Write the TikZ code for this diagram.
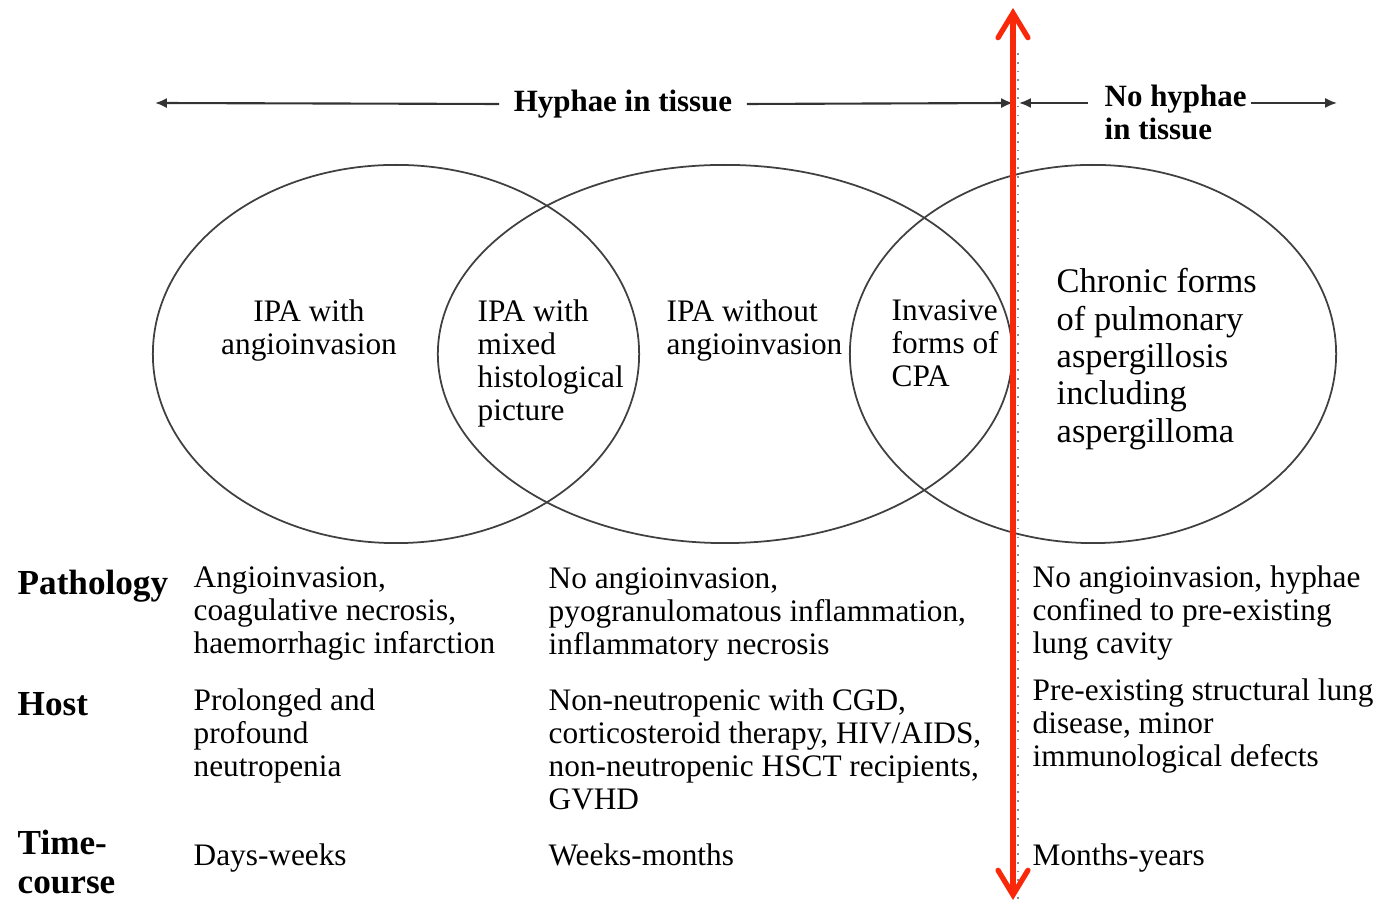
\documentclass[tikz,border=0pt]{standalone}
\usepackage{fontspec}
\setmainfont{Liberation Serif}
\usetikzlibrary{arrows.meta}

\definecolor{splitred}{RGB}{250,40,10}

\tikzset{
  cell/.style={anchor=north west, inner sep=0pt, align=left, font=\fontsize{8.9}{9.4}\selectfont},
  bigcell/.style={anchor=north west, inner sep=0pt, align=left, font=\fontsize{9.8}{10.6}\selectfont},
  rowhead/.style={anchor=north west, inner sep=0pt, align=left, font=\fontsize{10}{11.1}\selectfont\bfseries},
  tophead/.style={inner sep=4pt, align=left, font=\fontsize{8.8}{9.4}\selectfont\bfseries},
  toparrow/.style={draw=black!80, line width=0.6pt, -{Latex[length=3.4pt,width=2.9pt]}},
  venn/.style={draw=black!75, line width=0.5pt}
}

\begin{document}
\begin{tikzpicture}[x=0.01cm, y=-0.01cm]
    \useasboundingbox (0,0) rectangle (1384,904);

    % the three overlapping fields
    \draw[venn] (396,354) ellipse [x radius=2.43cm, y radius=1.89cm];
    \draw[venn] (725,354) ellipse [x radius=2.87cm, y radius=1.89cm];
    \draw[venn] (1093,354) ellipse [x radius=2.43cm, y radius=1.89cm];

    \node[cell, anchor=north, align=center] (angio) at (309,299) {IPA with\\angioinvasion};
    \node[cell] (mixed) at (477,299) {IPA with\\mixed\\histological\\picture};
    \node[cell] (noangio) at (666,299) {IPA without\\angioinvasion};
    \node[cell] (cpa) at (891,299) {Invasive\\forms of\\CPA};
    \node[bigcell] (chronic) at (1056,268) {Chronic forms\\of pulmonary\\aspergillosis\\including\\aspergilloma};

    % top labels
    \coordinate (hl) at (155,103);
    \coordinate (hr) at (1013,103);
    \coordinate (nl) at (1019,103);
    \coordinate (nr) at (1337,103);
    \node[tophead] (hyph) at (623,104) {Hyphae in tissue};
    \draw[toparrow] (hyph.west) -- (hl);
    \draw[toparrow] (hyph.east) -- (hr);
    \node[cell, font=\fontsize{8.8}{9.4}\selectfont\bfseries] (nohyph) at (1104,84) {No hyphae\\in tissue};
    \draw[toparrow, shorten <=4.5pt] (nl -| nohyph.west) -- (nl);
    \draw[toparrow, shorten <=1pt] (nl -| nohyph.east) -- (nr);

    % table rows
    \node[rowhead] (patho) at (17,569) {Pathology};
    \node[cell] (patho1) at (193,566) {Angioinvasion,\\coagulative necrosis,\\haemorrhagic infarction};
    \node[cell] (patho2) at (548,567) {No angioinvasion,\\pyogranulomatous inflammation,\\inflammatory necrosis};
    \node[cell] (patho3) at (1032,565) {No angioinvasion, hyphae\\confined to pre-existing\\lung cavity};

    \node[rowhead] (host) at (17,692) {Host};
    \node[cell] (host1) at (193,688) {Prolonged and\\profound\\neutropenia};
    \node[cell] (host2) at (548,688) {Non-neutropenic with CGD,\\corticosteroid therapy, HIV/AIDS,\\non-neutropenic HSCT recipients,\\GVHD};
    \node[cell] (host3) at (1032,678) {Pre-existing structural lung\\disease, minor\\immunological defects};

    \node[rowhead] (time) at (17,829) {Time-\\course};
    \node[cell] (time1) at (193,843) {Days-weeks};
    \node[cell] (time2) at (548,843) {Weeks-months};
    \node[cell] (time3) at (1032,843) {Months-years};

    % dividing lines
    \draw[black!45, dotted, line width=0.5pt] (1018,53) -- (1018,904);
    \coordinate (redtop) at (1013,8);
    \coordinate (redbot) at (1013,900);
    \draw[splitred, line width=1.5pt, line cap=round,
          {Straight Barb[length=7pt,width=8.5pt,line cap=round]}-{Straight Barb[length=7pt,width=8.5pt,line cap=round]}]
          (redtop) -- (redbot);
\end{tikzpicture}
\end{document}
